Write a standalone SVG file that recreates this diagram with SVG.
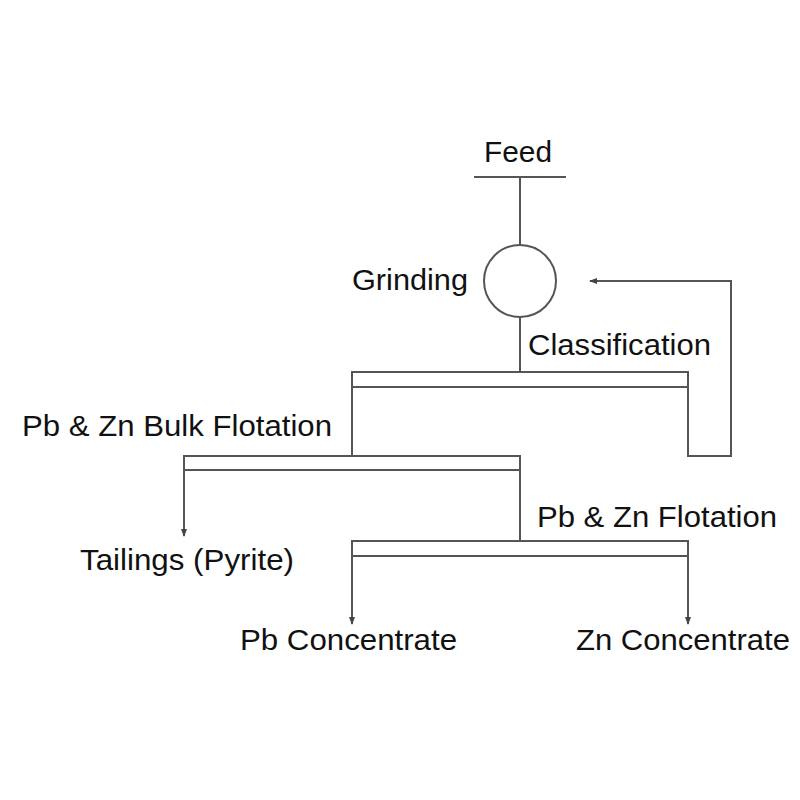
<svg xmlns="http://www.w3.org/2000/svg" width="800" height="800" viewBox="0 0 800 800">
<style>
text{font-family:"Liberation Sans",Arial,sans-serif;font-size:29px;fill:#111}
.l{fill:none;stroke:#555;stroke-width:2}
</style>
<defs><marker id="a" markerWidth="8" markerHeight="8" refX="7" refY="4" orient="auto" markerUnits="userSpaceOnUse"><path d="M0,1 L8,4 L0,7 Z" fill="#444"/></marker></defs>
<rect width="800" height="800" fill="#fff"/>
<g id="feed"><text x="484" y="162" textLength="68" lengthAdjust="spacingAndGlyphs">Feed</text><line class="l" x1="474" y1="177" x2="566" y2="177"/></g>
<g id="grinding"><circle class="l" cx="520" cy="281" r="36"/><text x="352" y="290" textLength="116" lengthAdjust="spacingAndGlyphs">Grinding</text></g>
<g id="classification"><rect class="l" x="352" y="372" width="336" height="15"/><text x="528" y="355" textLength="183" lengthAdjust="spacingAndGlyphs">Classification</text></g>
<g id="bulk"><rect class="l" x="184" y="456" width="336" height="14"/><text x="22" y="436" textLength="310" lengthAdjust="spacingAndGlyphs">Pb &amp; Zn Bulk Flotation</text></g>
<g id="flot"><rect class="l" x="352" y="541" width="336" height="15"/><text x="537" y="527" textLength="240" lengthAdjust="spacingAndGlyphs">Pb &amp; Zn Flotation</text></g>
<g id="tailings"><text x="80" y="570" textLength="214" lengthAdjust="spacingAndGlyphs">Tailings (Pyrite)</text></g>
<g id="pbc"><text x="240" y="650" textLength="217" lengthAdjust="spacingAndGlyphs">Pb Concentrate</text></g>
<g id="znc"><text x="576" y="650" textLength="214" lengthAdjust="spacingAndGlyphs">Zn Concentrate</text></g>
<g id="connectors">
<line class="l" x1="520" y1="177" x2="520" y2="245"/>
<line class="l" x1="520" y1="317" x2="520" y2="372"/>
<line class="l" x1="352" y1="387" x2="352" y2="456"/>
<polyline class="l" points="688,387 688,456 731,456 731,281 590,281" marker-end="url(#a)"/>
<line class="l" x1="184" y1="470" x2="184" y2="536" marker-end="url(#a)"/>
<line class="l" x1="520" y1="470" x2="520" y2="541"/>
<line class="l" x1="352" y1="556" x2="352" y2="624" marker-end="url(#a)"/>
<line class="l" x1="688" y1="556" x2="688" y2="624" marker-end="url(#a)"/>
</g>
</svg>
